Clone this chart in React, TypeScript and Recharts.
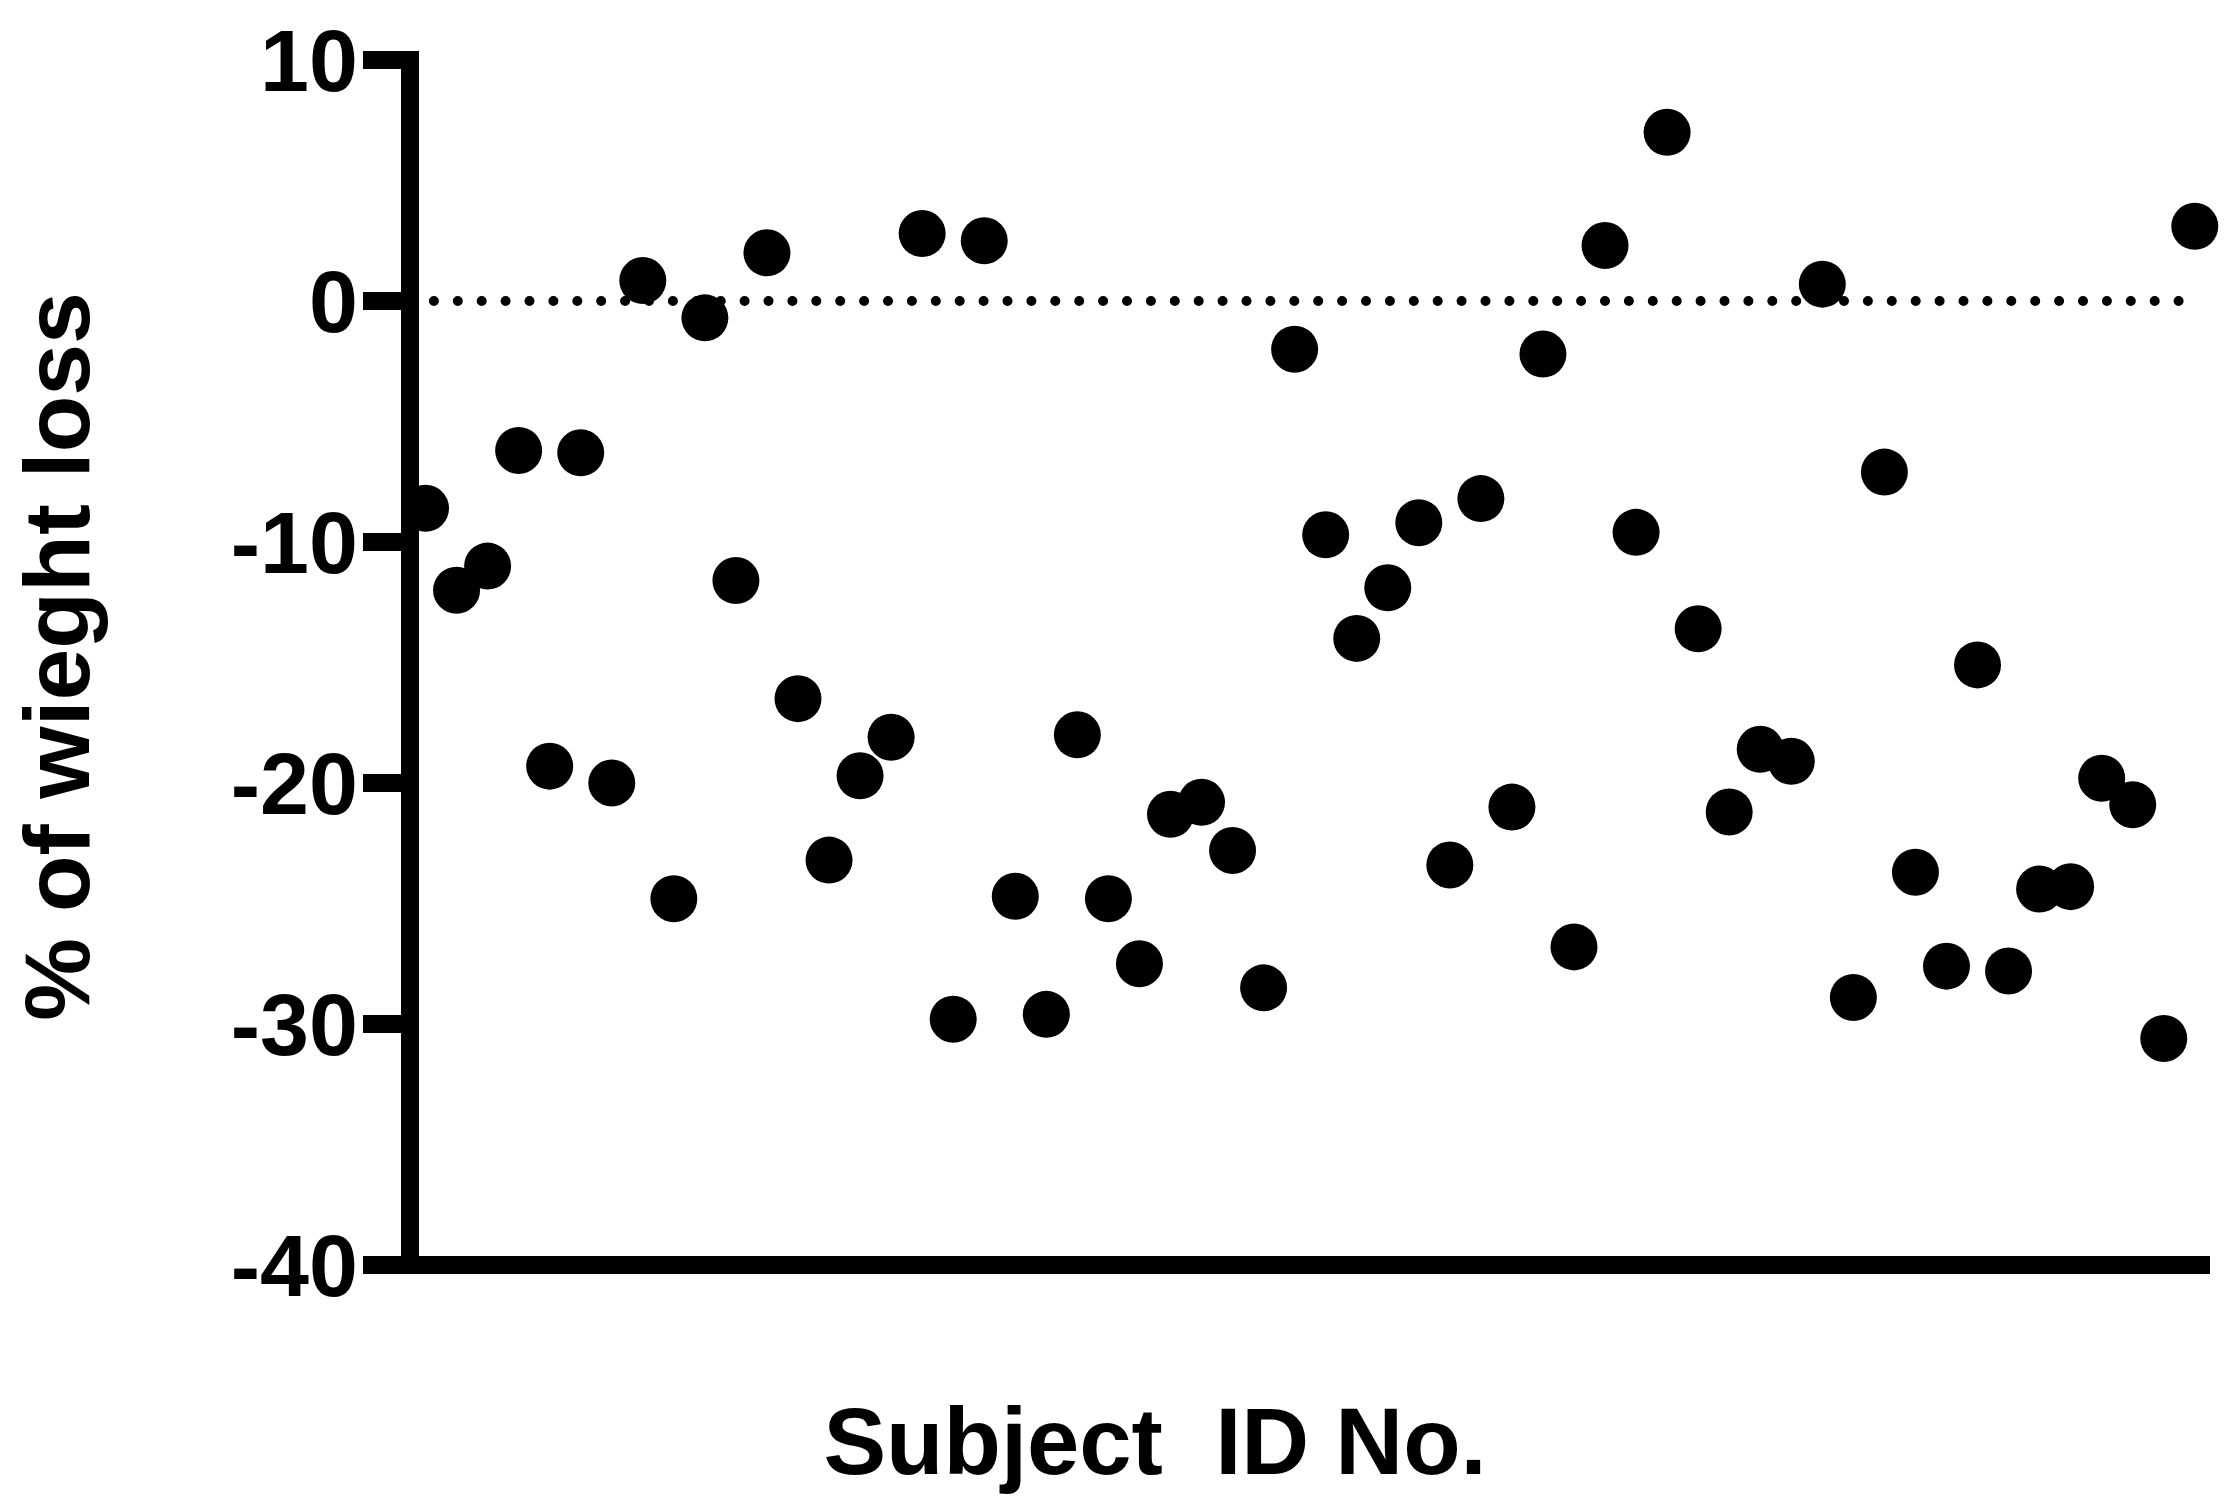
import { ScatterChart, Scatter, XAxis, YAxis, ReferenceLine } from 'recharts';

const FONT = '"Liberation Sans", Arial, sans-serif';

// % of weight loss per subject, in subject order (1..58)
const subjectIds = Array.from({ length: 58 }, (_, i) => i + 1);
const weightLoss = [
  -8.6, -12.0, -11.0, -6.2, -19.3, -6.3, -20.0, 0.85, -24.8, -0.7,
  -11.6, 2.0, -16.5, -23.2, -19.7, -18.1, 2.8, -29.8, 2.5, -24.7,
  -29.6, -18.0, -24.8, -27.5, -21.3, -20.8, -22.8, -28.5, -2.0, -9.7,
  -14.0, -11.9, -9.2, -23.4, -8.2, -21.0, -2.2, -26.8, 2.3, -9.6,
  7.0, -13.6, -21.2, -18.6, -19.1, 0.7, -28.9, -7.1, -23.7, -27.6,
  -15.1, -27.8, -24.4, -24.3, -19.8, -20.9, -30.6, 3.1,
];
const yTicks = [10, 0, -10, -20, -30, -40];

const data = subjectIds.map((id, i) => ({ id, loss: weightLoss[i] }));

function Dot(props: any) {
  return <circle cx={props.cx} cy={props.cy} r={23.5} fill="#000" />;
}

function YLabel({ viewBox }: any) {
  const cx = 57;
  const cy = viewBox.y + viewBox.height / 2 - 6;
  return (
    <text
      x={cx}
      y={cy}
      transform={`rotate(-90, ${cx}, ${cy})`}
      textAnchor="middle"
      dominantBaseline="central"
      fontFamily={FONT}
      fontWeight="bold"
      fontSize={93}
      fill="#000"
    >
      % of wieght loss
    </text>
  );
}

function XLabel({ viewBox }: any) {
  return (
    <text
      x={viewBox.x + viewBox.width * 0.416}
      y={viewBox.y + 209}
      textAnchor="middle"
      fontFamily={FONT}
      fontWeight="bold"
      fontSize={94}
      fill="#000"
    >
      {'Subject\u00a0 ID No.'}
    </text>
  );
}

export default function App() {
  return (
    <div style={{ position: 'absolute', left: 0, top: 0, background: '#fff' }}>
      <ScatterChart
        width={2236}
        height={1500}
        margin={{ top: 60, right: 35, bottom: 0, left: 0 }}
      >
        <XAxis
          type="number"
          dataKey="id"
          domain={[0.5, 58.2]}
          height={235}
          tick={false}
          tickLine={false}
          axisLine={{ stroke: '#000', strokeWidth: 18, strokeLinecap: 'square' }}
          label={<XLabel />}
        />
        <YAxis
          type="number"
          dataKey="loss"
          domain={[-40, 10]}
          ticks={yTicks}
          interval={0}
          width={410}
          tickSize={47}
          tickMargin={5}
          tickLine={{ stroke: '#000', strokeWidth: 18 }}
          axisLine={{ stroke: '#000', strokeWidth: 18, strokeLinecap: 'square' }}
          tick={{ fill: '#000', fontSize: 88, fontWeight: 'bold', fontFamily: FONT }}
          label={<YLabel />}
        />
        <ReferenceLine
          y={0}
          stroke="#000"
          strokeWidth={10}
          strokeDasharray="0 23.9"
          strokeLinecap="round"
        />
        <Scatter data={data} shape={<Dot />} isAnimationActive={false} />
      </ScatterChart>
    </div>
  );
}
